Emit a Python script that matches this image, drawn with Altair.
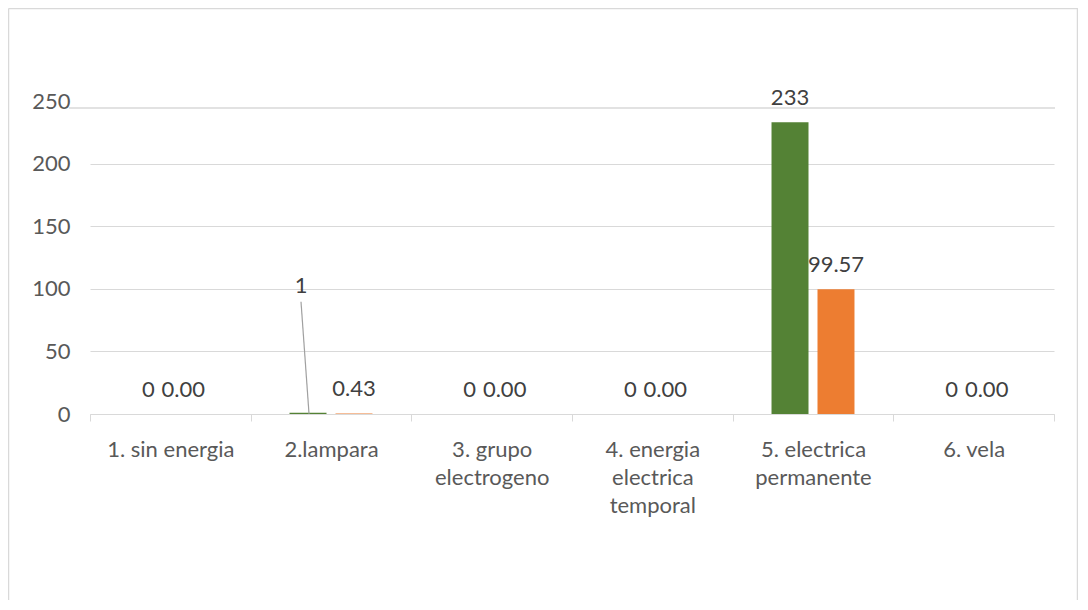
import json
import altair as alt
import pandas as pd

categories = ["1. sin energia", "2.lampara", "3. grupo electrogeno",
              "4. energia electrica temporal", "5. electrica permanente", "6. vela"]
label_lines = [["1. sin energia"], ["2.lampara"], ["3. grupo", "electrogeno"],
               ["4. energia", "electrica", "temporal"], ["5. electrica", "permanente"], ["6. vela"]]
series_names = ["Cantidad", "Porcentaje"]
counts = [0, 1, 0, 0, 233, 0]
percents = [0.00, 0.43, 0.00, 0.00, 99.57, 0.00]
y_ticks = [0, 50, 100, 150, 200, 250]
lifted_label = ("2.lampara", "Cantidad")

rows = []
for c, n, p in zip(categories, counts, percents):
    rows.append({"category": c, "series": series_names[0], "value": n,
                 "label": f"{n:d}", "lead": (c, series_names[0]) == lifted_label})
    rows.append({"category": c, "series": series_names[1], "value": p,
                 "label": f"{p:.2f}", "lead": (c, series_names[1]) == lifted_label})
df = pd.DataFrame(rows)

label_map = json.dumps(dict(zip(categories, label_lines)))
FONT = "Lato"
W, H = 964, 313

x_enc = alt.X("category:N", sort=categories,
              scale=alt.Scale(paddingInner=0, paddingOuter=0),
              axis=alt.Axis(title=None, labelAngle=0, labelExpr=f"{label_map}[datum.value]",
                            labelFont=FONT, labelFontSize=22, labelColor="#595959",
                            labelLineHeight=28, labelPadding=18,
                            domainColor="#d9d9d9", tickColor="#d9d9d9", tickSize=7,
                            tickBand="extent", grid=False))
xoff = alt.XOffset("series:N", sort=series_names,
                   scale=alt.Scale(paddingInner=0.1957, paddingOuter=0.845))
y_enc = alt.Y("value:Q", scale=alt.Scale(domain=[0, 250], nice=False),
              axis=alt.Axis(title=None, values=y_ticks, domain=False,
                            ticks=False, labelPadding=20, labelFont=FONT, labelFontSize=22,
                            labelColor="#595959", gridColor="#d9d9d9", gridWidth=1.2,
                            gridOpacity=alt.condition("datum.value == 250", alt.value(0), alt.value(1))))
color = alt.Color("series:N", scale=alt.Scale(domain=series_names, range=["#548235", "#ED7D31"]),
                  legend=None)

base = alt.Chart(df)
bars = base.mark_bar().encode(x=x_enc, xOffset=xoff, y=y_enc, color=color)

txt = dict(baseline="alphabetic", font=FONT, fontSize=22, color="#404040")
labels_nonzero = base.transform_filter("!datum.lead && datum.value != 0").mark_text(
    dy=-17, **txt).encode(x=x_enc, xOffset=xoff, y=y_enc, text="label:N")
labels_zero_count = base.transform_filter(
    f"datum.value == 0 && datum.series == '{series_names[0]}'").mark_text(
    dy=-17, dx=1, **txt).encode(x=x_enc, xOffset=xoff, y=y_enc, text="label:N")
labels_zero_pct = base.transform_filter(
    f"datum.value == 0 && datum.series == '{series_names[1]}'").mark_text(
    dy=-17, dx=-10, **txt).encode(x=x_enc, xOffset=xoff, y=y_enc, text="label:N")
lead_label = base.transform_filter("datum.lead").mark_text(
    dy=-120, dx=-7, **txt).encode(x=x_enc, xOffset=xoff, y=y_enc, text="label:N")
leader = base.transform_filter("datum.lead").mark_rule(
    color="#a0a0a0", strokeWidth=1.2, xOffset=-22, x2Offset=-30, yOffset=1, y2Offset=-111
).encode(x=x_enc, x2="category:N", y=y_enc, y2="value:Q")

# top rule of the value axis, drawn just under the "250" label
top_line = alt.Chart(pd.DataFrame({"v": [y_ticks[-1]]})).mark_rule(
    color="#d9d9d9", strokeWidth=1.6, yOffset=7
).encode(y="v:Q", x=alt.value(-21), x2=alt.value(W + 1))

# chart frame (left, top, right)
one = pd.DataFrame({"a": [0]})
frame_style = dict(color="#d9d9d9", strokeWidth=1.5)
frame_left = alt.Chart(one).mark_rule(**frame_style).encode(
    x=alt.value(-81.5), y=alt.value(-92.5), y2=alt.value(600))
frame_top = alt.Chart(one).mark_rule(**frame_style).encode(
    x=alt.value(-81.5), x2=alt.value(988), y=alt.value(-92.5))
frame_right = alt.Chart(one).mark_rule(**frame_style).encode(
    x=alt.value(987.5), y=alt.value(-92.5), y2=alt.value(600))

chart = alt.layer(frame_left, frame_top, frame_right, top_line, bars, leader,
                  labels_nonzero, labels_zero_count, labels_zero_pct, lead_label).properties(
    width=W, height=H,
    autosize=alt.AutoSizeParams(type="none"),
    padding={"left": 82, "top": 93, "right": 24, "bottom": 186},
).configure_view(stroke=None)

chart.save("out.html", embed_options={"renderer": "svg", "actions": False})
